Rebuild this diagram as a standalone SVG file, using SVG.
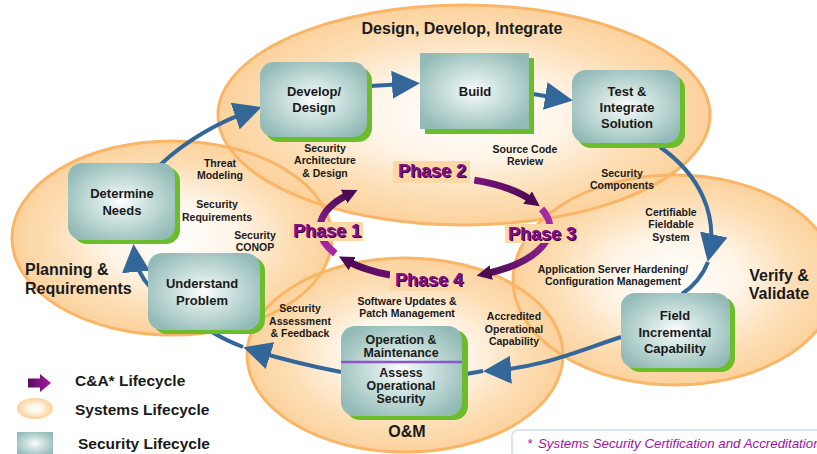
<svg xmlns="http://www.w3.org/2000/svg" width="817" height="454" viewBox="0 0 817 454">
<defs>
 <radialGradient id="peach" cx="0.5" cy="0.5" r="0.5">
  <stop offset="0" stop-color="#FFFFFF"/>
  <stop offset="0.4" stop-color="#FFF5E8"/>
  <stop offset="0.75" stop-color="#FDDEB5"/>
  <stop offset="1" stop-color="#FCD29D"/>
 </radialGradient>
 <radialGradient id="teal" cx="0.5" cy="0.5" r="0.6">
  <stop offset="0" stop-color="#FFFFFF"/>
  <stop offset="0.25" stop-color="#DDECEA"/>
  <stop offset="1" stop-color="#92BAB6"/>
 </radialGradient>
 <linearGradient id="legArrow" x1="0" y1="0" x2="1" y2="0">
  <stop offset="0" stop-color="#5A0B5C"/><stop offset="1" stop-color="#A41CA8"/>
 </linearGradient>
 <linearGradient id="gA" gradientUnits="userSpaceOnUse" x1="335" y1="253" x2="350" y2="194">
  <stop offset="0" stop-color="#A52AA8"/><stop offset="1" stop-color="#4C0A52"/>
 </linearGradient>
 <linearGradient id="gB" gradientUnits="userSpaceOnUse" x1="474" y1="180" x2="532" y2="201">
  <stop offset="0" stop-color="#7A1380"/><stop offset="1" stop-color="#4C0A52"/>
 </linearGradient>
 <linearGradient id="gC" gradientUnits="userSpaceOnUse" x1="541" y1="209" x2="485" y2="274">
  <stop offset="0" stop-color="#A52AA8"/><stop offset="1" stop-color="#4C0A52"/>
 </linearGradient>
 <linearGradient id="gD" gradientUnits="userSpaceOnUse" x1="390" y1="275" x2="347" y2="261">
  <stop offset="0" stop-color="#6A1070"/><stop offset="1" stop-color="#4C0A52"/>
 </linearGradient>
 <marker id="blueHead" viewBox="0 0 28 28" markerWidth="28" markerHeight="28" refX="22" refY="14" orient="auto" markerUnits="userSpaceOnUse">
  <path d="M0,0 L28,14 L0,28 z" fill="#336699"/>
 </marker>
 <marker id="purpleHead" viewBox="0 0 15 15" markerWidth="15" markerHeight="15" refX="6" refY="7.5" orient="auto" markerUnits="userSpaceOnUse">
  <path d="M0,0 L15,7.5 L0,15 z" fill="#4C0A52"/>
 </marker>
</defs>
<style>
 .ell{fill:url(#peach);}
 .ellb{fill:none;stroke:#FBB566;stroke-width:3;}
 .shadow{fill:#6CBD2B;}
 .box{fill:url(#teal);}
 .t{font-family:"Liberation Sans",Arial,sans-serif;font-weight:bold;fill:#1A1A1A;text-anchor:middle;}
 .bt{font-size:13px;}
 .bs{font-size:12.4px;}
 .lt{font-size:10.5px;}
 .et{font-size:16px;}
 .lg{font-family:"Liberation Sans",Arial,sans-serif;font-weight:bold;font-size:15.5px;fill:#1A1A1A;}
 .blue{fill:none;stroke:#336699;stroke-width:4;}
 .ring{fill:none;stroke-width:7;}
 .phbg{fill:#FCD8A6;}
 .ph{font-family:"Liberation Sans",Arial,sans-serif;font-weight:bold;font-size:18px;text-anchor:middle;fill:#8A0A8C;}
 .phs{font-family:"Liberation Sans",Arial,sans-serif;font-weight:bold;font-size:18px;text-anchor:middle;fill:#2E0033;}
</style>

<g id="lifecycle-ellipses">
 <ellipse class="ell" cx="172" cy="238" rx="160" ry="97"/>
 <ellipse class="ell" cx="675" cy="280" rx="162" ry="105"/>
 <ellipse class="ell" cx="405" cy="355" rx="158" ry="97"/>
 <ellipse class="ell" cx="464" cy="115" rx="246" ry="110"/>
 <ellipse class="ellb" cx="172" cy="238" rx="160" ry="97"/>
 <ellipse class="ellb" cx="675" cy="280" rx="162" ry="105"/>
 <ellipse class="ellb" cx="405" cy="355" rx="158" ry="97"/>
 <ellipse class="ellb" cx="464" cy="115" rx="246" ry="110"/>
</g>

<g id="ellipse-labels">
 <text class="t et" x="462" y="34">Design, Develop, Integrate</text>
 <text class="t et" x="25" y="275" style="text-anchor:start">Planning &amp;</text>
 <text class="t et" x="25" y="294" style="text-anchor:start">Requirements</text>
 <text class="t et" x="779" y="281">Verify &amp;</text>
 <text class="t et" x="779" y="299">Validate</text>
 <text class="t et" x="407" y="437">O&amp;M</text>
</g>

<g id="ca-ring">
 <path class="ring" stroke="url(#gA)" d="M335.4,253.5 A115,51 0 0 1 349.5,193.9" marker-end="url(#purpleHead)"/>
 <path class="ring" stroke="url(#gB)" d="M474.3,180.1 A115,51 0 0 1 532.5,201" marker-end="url(#purpleHead)"/>
 <path class="ring" stroke="url(#gC)" d="M541.6,208.9 A115,51 0 0 1 485.4,273.8" marker-end="url(#purpleHead)"/>
 <path class="ring" stroke="url(#gD)" d="M390.1,275 A115,51 0 0 1 346.9,260.8" marker-end="url(#purpleHead)"/>
</g>

<g id="phase1">
 <rect class="phbg" x="290" y="222" width="73" height="19"/>
 <text class="phs" x="328.3" y="238.3">Phase 1</text>
 <text class="ph" x="327" y="237">Phase 1</text>
</g>
<g id="phase2">
 <rect class="phbg" x="393" y="161" width="77" height="22"/>
 <text class="phs" x="433.3" y="178.3">Phase 2</text>
 <text class="ph" x="432" y="177">Phase 2</text>
</g>
<g id="phase3">
 <rect class="phbg" x="505" y="224" width="73" height="19"/>
 <text class="phs" x="543.3" y="241.3">Phase 3</text>
 <text class="ph" x="542" y="240">Phase 3</text>
</g>
<g id="phase4">
 <rect class="phbg" x="390" y="271" width="77" height="20"/>
 <text class="phs" x="430.3" y="287.3">Phase 4</text>
 <text class="ph" x="429" y="286">Phase 4</text>
</g>

<g id="connectors">
 <path class="blue" d="M150,287 Q136,272 134,250" marker-end="url(#blueHead)"/>
 <path class="blue" d="M160,165 Q200,128 256,109" marker-end="url(#blueHead)"/>
 <path class="blue" d="M370,86 L414,83.5" marker-end="url(#blueHead)"/>
 <path class="blue" d="M533,94 L567,99.5" marker-end="url(#blueHead)"/>
 <path class="blue" d="M660,147 C700,175 718,215 709,256" marker-end="url(#blueHead)"/>
 <path class="blue" d="M708,262 Q700,282 682,294"/>
 <path class="blue" d="M621,337 C575,352 540,368 489,371" marker-end="url(#blueHead)"/>
 <path class="blue" d="M483,371 L466,374"/>
 <path class="blue" d="M341,372 Q290,362 249,349" marker-end="url(#blueHead)"/>
 <path class="blue" d="M243,347 Q225,340 212,332"/>
</g>

<g id="connector-labels">
 <text class="t lt" x="220" y="167">Threat</text>
 <text class="t lt" x="220" y="179">Modeling</text>
 <text class="t lt" x="217" y="208">Security</text>
 <text class="t lt" x="217" y="221">Requirements</text>
 <text class="t lt" x="255" y="239">Security</text>
 <text class="t lt" x="255" y="251">CONOP</text>
 <text class="t lt" x="325" y="152">Security</text>
 <text class="t lt" x="325" y="164">Architecture</text>
 <text class="t lt" x="325" y="177">&amp; Design</text>
 <text class="t lt" x="525" y="153">Source Code</text>
 <text class="t lt" x="525" y="165">Review</text>
 <text class="t lt" x="622" y="177">Security</text>
 <text class="t lt" x="622" y="189">Components</text>
 <text class="t lt" x="671" y="216">Certifiable</text>
 <text class="t lt" x="671" y="228">Fieldable</text>
 <text class="t lt" x="671" y="241">System</text>
 <text class="t lt" x="613" y="273">Application Server Hardening/</text>
 <text class="t lt" x="613" y="285">Configuration Management</text>
 <text class="t lt" x="514" y="320">Accredited</text>
 <text class="t lt" x="514" y="333">Operational</text>
 <text class="t lt" x="514" y="345">Capability</text>
 <text class="t lt" x="407" y="305">Software Updates &amp;</text>
 <text class="t lt" x="407" y="317">Patch Management</text>
 <text class="t lt" x="300" y="312">Security</text>
 <text class="t lt" x="300" y="325">Assessment</text>
 <text class="t lt" x="300" y="337">&amp; Feedback</text>
</g>

<g id="develop-design">
 <rect class="shadow" x="265" y="67" width="107" height="75" rx="14"/>
 <rect class="box" x="260" y="62" width="107" height="75" rx="14"/>
 <text class="t bt" x="314" y="96">Develop/</text>
 <text class="t bt" x="314" y="112">Design</text>
</g>
<g id="build">
 <rect class="shadow" x="425" y="58" width="109" height="76"/>
 <rect class="box" x="420" y="53" width="109" height="76"/>
 <text class="t bt" x="475" y="96">Build</text>
</g>
<g id="test-integrate">
 <rect class="shadow" x="577" y="75" width="108" height="73" rx="14"/>
 <rect class="box" x="572" y="70" width="108" height="73" rx="14"/>
 <text class="t bt" x="627" y="96">Test &amp;</text>
 <text class="t bt" x="627" y="112">Integrate</text>
 <text class="t bt" x="627" y="128">Solution</text>
</g>
<g id="determine-needs">
 <rect class="shadow" x="73" y="167" width="107" height="77" rx="14"/>
 <rect class="box" x="68" y="163" width="107" height="77" rx="14"/>
 <text class="t bt" x="122" y="198">Determine</text>
 <text class="t bt" x="122" y="215">Needs</text>
</g>
<g id="understand-problem">
 <rect class="shadow" x="153" y="257" width="112" height="77" rx="14"/>
 <rect class="box" x="148" y="253" width="112" height="77" rx="14"/>
 <text class="t bt" x="202" y="288">Understand</text>
 <text class="t bt" x="202" y="305">Problem</text>
</g>
<g id="field-capability">
 <rect class="shadow" x="626" y="297" width="109" height="75" rx="14"/>
 <rect class="box" x="621" y="293" width="109" height="75" rx="14"/>
 <text class="t bt" x="675" y="320">Field</text>
 <text class="t bt" x="675" y="337">Incremental</text>
 <text class="t bt" x="675" y="353">Capability</text>
</g>
<g id="operation-maintenance">
 <rect class="shadow" x="346" y="330" width="122" height="90" rx="14"/>
 <rect class="box" x="341" y="326" width="121" height="90" rx="14"/>
 <line x1="341" y1="362" x2="462" y2="362" stroke="#8E55D0" stroke-width="2.5"/>
 <text class="t bs" x="401" y="344">Operation &amp;</text>
 <text class="t bs" x="401" y="357">Maintenance</text>
 <text class="t bs" x="401" y="377">Assess</text>
 <text class="t bs" x="401" y="390">Operational</text>
 <text class="t bs" x="401" y="403">Security</text>
</g>

<g id="legend">
 <polygon points="28,378.5 40,378.5 40,374 51,383 40,392 40,387.5 28,387.5" fill="url(#legArrow)"/>
 <text class="lg" x="75" y="386">C&amp;A* Lifecycle</text>
 <ellipse cx="35" cy="408.5" rx="18" ry="10.5" fill="url(#peach)"/>
 <text class="lg" x="75" y="415">Systems Lifecycle</text>
 <rect x="17" y="432" width="36" height="23" fill="url(#teal)"/>
 <text class="lg" x="78" y="449">Security Lifecycle</text>
</g>

<g id="footnote">
 <rect x="512" y="430" width="330" height="34" rx="6" fill="#FFFFFF" stroke="#D9E5F0" stroke-width="2"/>
 <text x="527" y="448" font-family="'Liberation Sans', Arial, sans-serif" font-style="italic" font-size="13.3" fill="#A0139C">*<tspan x="538">Systems Security Certification and Accreditation</tspan></text>
</g>
</svg>
